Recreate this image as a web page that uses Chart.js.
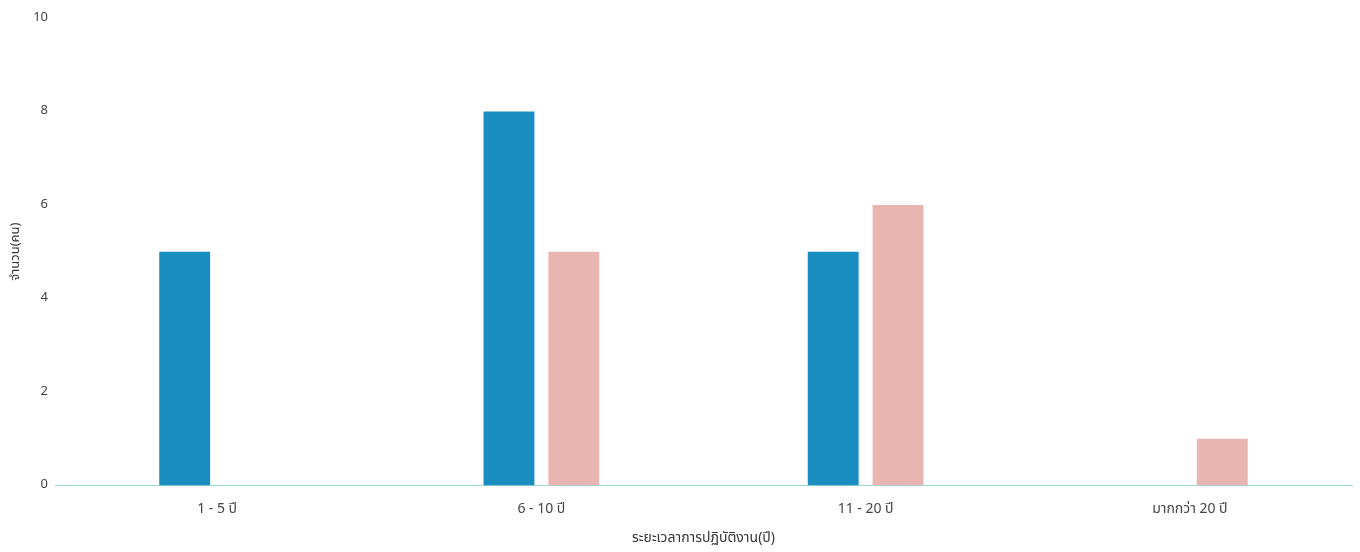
<!DOCTYPE html>
<html>
<head>
<meta charset="utf-8">
<script src="https://cdn.jsdelivr.net/npm/chart.js@4.4.1/dist/chart.umd.min.js"></script>
<style>
  html, body { margin: 0; padding: 0; background: #ffffff; }
  #wrap { width: 1360px; height: 552px; position: relative; }
</style>
</head>
<body>
<div id="wrap"><canvas id="c"></canvas></div>
<script>
const categories = ["1 - 5 ปี", "6 - 10 ปี", "11 - 20 ปี", "มากกว่า 20 ปี"];
const seriesBlue = [5, 8, 5, 0];
const seriesPink = [0, 5, 6, 1];
const yTicks = [0, 2, 4, 6, 8, 10];
const yTitle = "จำนวน(คน)";
const xTitle = "ระยะเวลาการปฏิบัติงาน(ปี)";

const FONT = "'Noto Sans Thai', 'Noto Sans', 'Open Sans', sans-serif";

new Chart(document.getElementById('c'), {
  type: 'bar',
  data: {
    labels: categories,
    datasets: [
      { label: 'A', data: seriesBlue, backgroundColor: '#1a8ec0', barPercentage: 0.785, categoryPercentage: 0.4 },
      { label: 'B', data: seriesPink, backgroundColor: '#e8b5b1', barPercentage: 0.785, categoryPercentage: 0.4 }
    ]
  },
  options: {
    responsive: true,
    maintainAspectRatio: false,
    animation: false,
    layout: { padding: { top: 18, right: 8, left: 0, bottom: 4 } },
    plugins: { legend: { display: false }, tooltip: { enabled: false } },
    scales: {
      x: {
        grid: { display: false },
        border: { display: true, color: '#9fd8d3', width: 1 },
        ticks: { color: '#444', font: { family: FONT, size: 14 }, padding: 8 },
        title: { display: true, text: xTitle, color: '#333', font: { family: FONT, size: 14 }, padding: { top: 5, bottom: 0 } }
      },
      y: {
        min: 0, max: 10,
        afterBuildTicks: (s) => { s.ticks = yTicks.map(v => ({ value: v })); },
        grid: { display: false, drawTicks: false },
        border: { display: false },
        ticks: { color: '#444', font: { family: FONT, size: 13 }, padding: 7 },
        title: { display: true, text: yTitle, color: '#333', font: { family: FONT, size: 13 }, padding: { top: 9, bottom: 0 } },
        afterFit: (s) => { s.width = 55; }
      }
    }
  }
});
</script>
</body>
</html>
